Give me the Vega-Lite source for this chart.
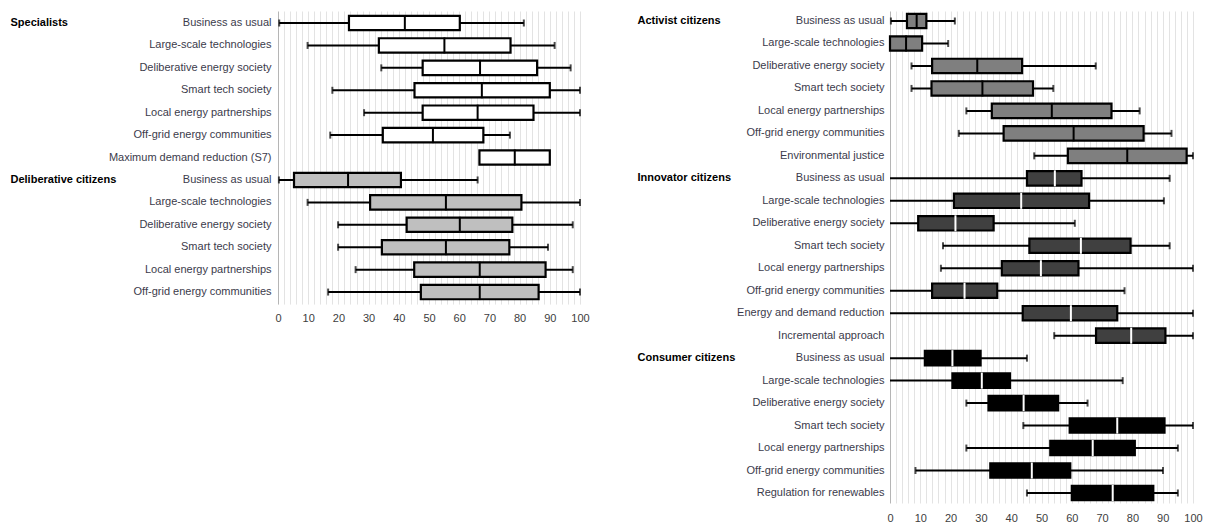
{
  "$schema": "https://vega.github.io/schema/vega-lite/v6.json",
  "padding": {"left": 10, "top": 11, "right": 0, "bottom": 0},
  "background": "white",
  "spacing": 47,
  "config": {
    "font": "Liberation Sans",
    "view": {"stroke": null},
    "axis": {"labelFont": "Liberation Sans", "labelFontSize": 11}
  },
  "datasets": {
    "boxes": [
      {"panel": "L", "key": "01|Specialists|Business as usual", "group": "Specialists", "min": 0.4, "q1": 23.5, "med": 42, "q3": 60.2, "max": 81.4},
      {"panel": "L", "key": "02||Large-scale technologies", "group": "Specialists", "min": 9.8, "q1": 33.4, "med": 55.1, "q3": 77, "max": 91.6},
      {"panel": "L", "key": "03||Deliberative energy society", "group": "Specialists", "min": 34.2, "q1": 47.9, "med": 66.9, "q3": 85.8, "max": 96.9},
      {"panel": "L", "key": "04||Smart tech society", "group": "Specialists", "min": 18, "q1": 45.2, "med": 67.5, "q3": 90, "max": 100},
      {"panel": "L", "key": "05||Local energy partnerships", "group": "Specialists", "min": 28.5, "q1": 47.9, "med": 66.1, "q3": 84.6, "max": 100},
      {"panel": "L", "key": "06||Off-grid energy communities", "group": "Specialists", "min": 17.3, "q1": 34.7, "med": 51.3, "q3": 68, "max": 76.8},
      {"panel": "L", "key": "07||Maximum demand reduction (S7)", "group": "Specialists", "min": 66.7, "q1": 66.7, "med": 78.4, "q3": 90, "max": 90},
      {"panel": "L", "key": "08|Deliberative citizens|Business as usual", "group": "Deliberative citizens", "min": 0.3, "q1": 5.3, "med": 23.2, "q3": 40.7, "max": 66.1},
      {"panel": "L", "key": "09||Large-scale technologies", "group": "Deliberative citizens", "min": 9.8, "q1": 30.5, "med": 55.6, "q3": 80.6, "max": 100},
      {"panel": "L", "key": "10||Deliberative energy society", "group": "Deliberative citizens", "min": 19.9, "q1": 42.6, "med": 60.2, "q3": 77.6, "max": 97.6},
      {"panel": "L", "key": "11||Smart tech society", "group": "Deliberative citizens", "min": 19.9, "q1": 34.4, "med": 55.6, "q3": 76.6, "max": 89.4},
      {"panel": "L", "key": "12||Local energy partnerships", "group": "Deliberative citizens", "min": 25.7, "q1": 45.1, "med": 66.8, "q3": 88.6, "max": 97.6},
      {"panel": "L", "key": "13||Off-grid energy communities", "group": "Deliberative citizens", "min": 16.6, "q1": 47.3, "med": 66.8, "q3": 86.3, "max": 100},
      {"panel": "R", "key": "01|Activist citizens|Business as usual", "group": "Activist citizens", "min": 0.3, "q1": 5.6, "med": 8.8, "q3": 12, "max": 21.4},
      {"panel": "R", "key": "02||Large-scale technologies", "group": "Activist citizens", "min": 0, "q1": 0, "med": 5.3, "q3": 10.6, "max": 19.2},
      {"panel": "R", "key": "03||Deliberative energy society", "group": "Activist citizens", "min": 7.1, "q1": 13.9, "med": 28.8, "q3": 43.6, "max": 67.9},
      {"panel": "R", "key": "04||Smart tech society", "group": "Activist citizens", "min": 7.1, "q1": 13.7, "med": 30.5, "q3": 47.2, "max": 53.9},
      {"panel": "R", "key": "05||Local energy partnerships", "group": "Activist citizens", "min": 25.2, "q1": 33.6, "med": 53.4, "q3": 73.1, "max": 82.4},
      {"panel": "R", "key": "06||Off-grid energy communities", "group": "Activist citizens", "min": 22.7, "q1": 37.5, "med": 60.6, "q3": 83.7, "max": 92.9},
      {"panel": "R", "key": "07||Environmental justice", "group": "Activist citizens", "min": 47.6, "q1": 58.7, "med": 78.3, "q3": 97.9, "max": 100},
      {"panel": "R", "key": "08|Innovator citizens|Business as usual", "group": "Innovator citizens", "min": 0, "q1": 45.2, "med": 54.4, "q3": 63.2, "max": 92.3},
      {"panel": "R", "key": "09||Large-scale technologies", "group": "Innovator citizens", "min": 0, "q1": 21.1, "med": 43.3, "q3": 65.7, "max": 90.4},
      {"panel": "R", "key": "10||Deliberative energy society", "group": "Innovator citizens", "min": 0, "q1": 9.3, "med": 21.6, "q3": 34.2, "max": 61},
      {"panel": "R", "key": "11||Smart tech society", "group": "Innovator citizens", "min": 17.5, "q1": 46, "med": 63, "q3": 79.4, "max": 92.3},
      {"panel": "R", "key": "12||Local energy partnerships", "group": "Innovator citizens", "min": 16.8, "q1": 36.9, "med": 49.8, "q3": 62.2, "max": 100},
      {"panel": "R", "key": "13||Off-grid energy communities", "group": "Innovator citizens", "min": 0, "q1": 13.9, "med": 24.6, "q3": 35.4, "max": 77.4},
      {"panel": "R", "key": "14||Energy and demand reduction", "group": "Innovator citizens", "min": 0, "q1": 43.8, "med": 59.7, "q3": 75, "max": 100},
      {"panel": "R", "key": "15||Incremental approach", "group": "Innovator citizens", "min": 54.2, "q1": 68, "med": 79.6, "q3": 90.9, "max": 100},
      {"panel": "R", "key": "16|Consumer citizens|Business as usual", "group": "Consumer citizens", "min": 0, "q1": 11.5, "med": 20.6, "q3": 29.9, "max": 45.2},
      {"panel": "R", "key": "17||Large-scale technologies", "group": "Consumer citizens", "min": 0, "q1": 20.6, "med": 30.3, "q3": 39.6, "max": 76.8},
      {"panel": "R", "key": "18||Deliberative energy society", "group": "Consumer citizens", "min": 25.2, "q1": 32.5, "med": 44.1, "q3": 55.5, "max": 65.2},
      {"panel": "R", "key": "19||Smart tech society", "group": "Consumer citizens", "min": 44, "q1": 59.3, "med": 75, "q3": 90.6, "max": 100},
      {"panel": "R", "key": "20||Local energy partnerships", "group": "Consumer citizens", "min": 25.2, "q1": 52.9, "med": 66.9, "q3": 80.8, "max": 95},
      {"panel": "R", "key": "21||Off-grid energy communities", "group": "Consumer citizens", "min": 8.4, "q1": 33.1, "med": 46.8, "q3": 59.5, "max": 90.1},
      {"panel": "R", "key": "22||Regulation for renewables", "group": "Consumer citizens", "min": 45.2, "q1": 60, "med": 73.5, "q3": 86.9, "max": 95}
    ]
  },
  "hconcat": [
    {
      "data": {"name": "boxes"},
      "transform": [{"filter": "datum.panel === 'L'"}],
      "width": 302,
      "height": {"step": 22.42},
      "resolve": {"axis": {"y": "independent", "x": "independent"}},
      "layer": [
        {
          "mark": {"type": "rule", "color": "black", "strokeWidth": 2},
          "encoding": {
            "y": {"field": "key", "type": "nominal", "sort": "ascending", "scale": {"paddingInner": 0.36, "paddingOuter": 0.216},
              "axis": {"orient": "left", "title": null, "ticks": false, "domain": false, "grid": false, "labelPadding": 7, "labelColor": "#3b3b4b", "labelExpr": "split(datum.label, '|')[2]", "labelLimit": 300}},
            "x": {"field": "min", "type": "quantitative", "scale": {"domain": [0, 100], "nice": false},
              "axis": {"title": null, "values": [0,2,4,6,8,10,12,14,16,18,20,22,24,26,28,30,32,34,36,38,40,42,44,46,48,50,52,54,56,58,60,62,64,66,68,70,72,74,76,78,80,82,84,86,88,90,92,94,96,98,100],
                "labelExpr": "datum.value % 10 === 0 ? datum.label : ''", "ticks": false, "domain": false, "grid": true, "labelOverlap": false,
                "gridColor": {"condition": {"test": "datum.value === 0", "value": "#b5b5b5"}, "value": "#e3e3e3"}, "gridWidth": 1,
                "labelColor": "#404040", "labelPadding": 8, "labelFlush": false}},
            "x2": {"field": "max"}
          }
        },
        {
          "transform": [{"filter": "datum.min > 0 && datum.min < datum.q1"}],
          "mark": {"type": "tick", "color": "black", "size": 7, "thickness": 2},
          "encoding": {
            "y": {"field": "key", "type": "nominal", "sort": "ascending", "axis": null},
            "x": {"field": "min", "type": "quantitative", "axis": null}
          }
        },
        {
          "transform": [{"filter": "datum.max > datum.q3"}],
          "mark": {"type": "tick", "color": "black", "size": 7, "thickness": 2},
          "encoding": {
            "y": {"field": "key", "type": "nominal", "sort": "ascending", "axis": null},
            "x": {"field": "max", "type": "quantitative", "axis": null}
          }
        },
        {
          "mark": {"type": "bar", "stroke": "black", "strokeWidth": 2.2},
          "encoding": {
            "y": {"field": "key", "type": "nominal", "sort": "ascending",
              "axis": {"orient": "left", "title": null, "ticks": false, "domain": false, "grid": false, "labelAlign": "left", "labelPadding": 268, "labelColor": "black", "labelFontWeight": "bold", "labelExpr": "split(datum.label, '|')[1]", "labelLimit": 300}},
            "x": {"field": "q1", "type": "quantitative", "axis": null},
            "x2": {"field": "q3"},
            "fill": {"field": "group", "type": "nominal", "legend": null,
              "scale": {"domain": ["Specialists", "Deliberative citizens", "Activist citizens", "Innovator citizens", "Consumer citizens"], "range": ["#ffffff", "#bfbfbf", "#7f7f7f", "#404040", "#000000"]}}
          }
        },
        {
          "mark": {"type": "tick", "size": 16, "thickness": 2, "opacity": 1},
          "encoding": {
            "y": {"field": "key", "type": "nominal", "sort": "ascending", "axis": null},
            "x": {"field": "med", "type": "quantitative", "axis": null},
            "color": {"field": "group", "type": "nominal", "legend": null,
              "scale": {"domain": ["Specialists", "Deliberative citizens", "Activist citizens", "Innovator citizens", "Consumer citizens"], "range": ["#000000", "#000000", "#000000", "#ffffff", "#ffffff"]}}
          }
        }
      ]
    },
    {
      "data": {"name": "boxes"},
      "transform": [{"filter": "datum.panel === 'R'"}],
      "width": 303,
      "height": {"step": 22.476},
      "resolve": {"axis": {"y": "independent", "x": "independent"}},
      "layer": [
        {
          "mark": {"type": "rule", "color": "black", "strokeWidth": 2},
          "encoding": {
            "y": {"field": "key", "type": "nominal", "sort": "ascending", "scale": {"paddingInner": 0.36, "paddingOuter": 0.125},
              "axis": {"orient": "left", "title": null, "ticks": false, "domain": false, "grid": false, "labelPadding": 6, "labelColor": "#3b3b4b", "labelExpr": "split(datum.label, '|')[2]", "labelLimit": 300}},
            "x": {"field": "min", "type": "quantitative", "scale": {"domain": [0, 100], "nice": false},
              "axis": {"title": null, "values": [0,2,4,6,8,10,12,14,16,18,20,22,24,26,28,30,32,34,36,38,40,42,44,46,48,50,52,54,56,58,60,62,64,66,68,70,72,74,76,78,80,82,84,86,88,90,92,94,96,98,100],
                "labelExpr": "datum.value % 10 === 0 ? datum.label : ''", "ticks": false, "domain": false, "grid": true, "labelOverlap": false,
                "gridColor": {"condition": {"test": "datum.value === 0", "value": "#b5b5b5"}, "value": "#e3e3e3"}, "gridWidth": 1,
                "labelColor": "#404040", "labelPadding": 10, "labelFlush": false}},
            "x2": {"field": "max"}
          }
        },
        {
          "transform": [{"filter": "datum.min > 0 && datum.min < datum.q1"}],
          "mark": {"type": "tick", "color": "black", "size": 7, "thickness": 2},
          "encoding": {
            "y": {"field": "key", "type": "nominal", "sort": "ascending", "axis": null},
            "x": {"field": "min", "type": "quantitative", "axis": null}
          }
        },
        {
          "transform": [{"filter": "datum.max > datum.q3"}],
          "mark": {"type": "tick", "color": "black", "size": 7, "thickness": 2},
          "encoding": {
            "y": {"field": "key", "type": "nominal", "sort": "ascending", "axis": null},
            "x": {"field": "max", "type": "quantitative", "axis": null}
          }
        },
        {
          "mark": {"type": "bar", "stroke": "black", "strokeWidth": 2.2},
          "encoding": {
            "y": {"field": "key", "type": "nominal", "sort": "ascending",
              "axis": {"orient": "left", "title": null, "ticks": false, "domain": false, "grid": false, "labelAlign": "left", "labelPadding": 253, "labelColor": "black", "labelFontWeight": "bold", "labelExpr": "split(datum.label, '|')[1]", "labelLimit": 300}},
            "x": {"field": "q1", "type": "quantitative", "axis": null},
            "x2": {"field": "q3"},
            "fill": {"field": "group", "type": "nominal", "legend": null,
              "scale": {"domain": ["Specialists", "Deliberative citizens", "Activist citizens", "Innovator citizens", "Consumer citizens"], "range": ["#ffffff", "#bfbfbf", "#7f7f7f", "#404040", "#000000"]}}
          }
        },
        {
          "mark": {"type": "tick", "size": 16, "thickness": 2, "opacity": 1},
          "encoding": {
            "y": {"field": "key", "type": "nominal", "sort": "ascending", "axis": null},
            "x": {"field": "med", "type": "quantitative", "axis": null},
            "color": {"field": "group", "type": "nominal", "legend": null,
              "scale": {"domain": ["Specialists", "Deliberative citizens", "Activist citizens", "Innovator citizens", "Consumer citizens"], "range": ["#000000", "#000000", "#000000", "#ffffff", "#ffffff"]}}
          }
        }
      ]
    }
  ]
}
